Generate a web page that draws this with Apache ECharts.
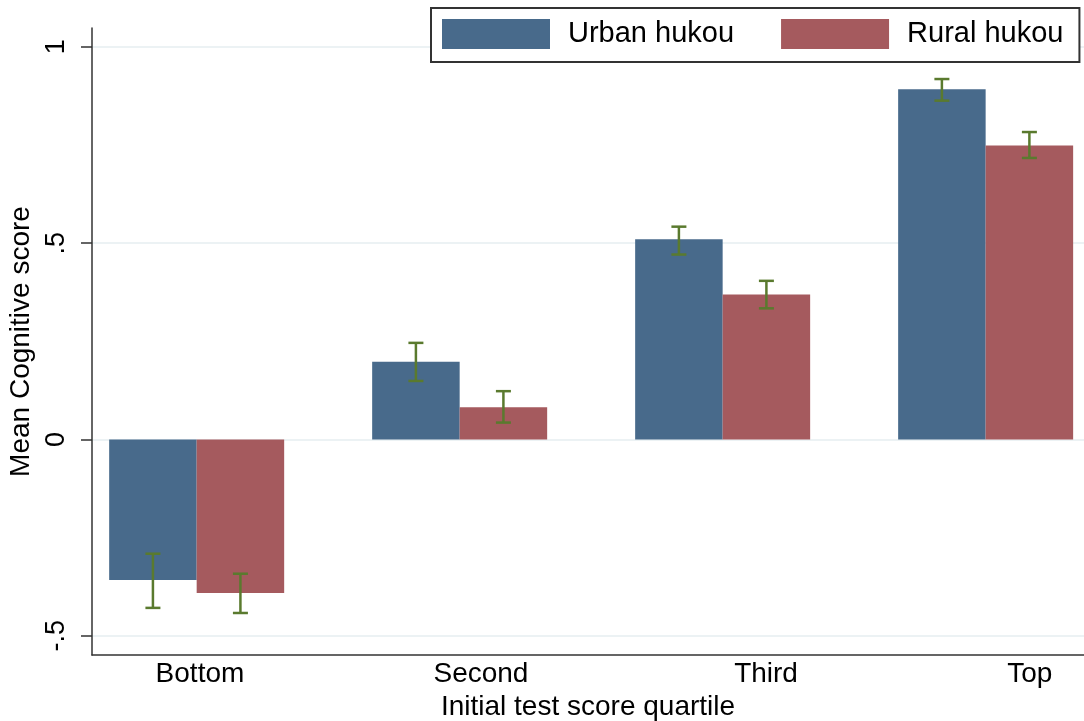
<!DOCTYPE html>
<html>
<head>
<meta charset="utf-8">
<script src="https://cdn.jsdelivr.net/npm/echarts@6/dist/echarts.min.js"></script>
<style>
  html, body { margin: 0; padding: 0; background: #fff; }
  #chart { width: 1084px; height: 721px; }
</style>
</head>
<body>
<div id="chart"></div>
<script>
// quartile groups
const categories = ['Bottom', 'Second', 'Third', 'Top'];
const seriesNames = ['Urban hukou', 'Rural hukou'];

// means
const urban = [-0.358, 0.198, 0.510, 0.892];
const rural = [-0.391, 0.082, 0.369, 0.749];

// confidence interval ends
const urbanHi = [-0.291, 0.246, 0.542, 0.918];
const urbanLo = [-0.429, 0.149, 0.471, 0.863];
const ruralHi = [-0.342, 0.123, 0.404, 0.783];
const ruralLo = [-0.442, 0.043, 0.334, 0.717];

// axis ticks
const yTicks = [-0.5, 0, 0.5, 1];
const yTickLabels = ['-.5', '0', '.5', '1'];
const xLabelPos = [0.0125, 1.081, 2.165, 3.168];

const FONT = 'Liberation Sans, Arial, Helvetica, sans-serif';
const BAR_W = 87.5;
const colors = ['#486a8b', '#a55a5e'];
const errColor = '#5a7a2e';

const chart = echarts.init(document.getElementById('chart'));

function errData(lo, hi, side) {
  return categories.map((c, i) => [i, lo[i], hi[i], side]);
}

function renderErr(params, api) {
  const side = api.value(3);
  const x = api.coord([api.value(0), 0])[0] + side * BAR_W / 2;
  const yLo = api.coord([0, api.value(1)])[1];
  const yHi = api.coord([0, api.value(2)])[1];
  const cap = 7.5;
  const style = { stroke: errColor, lineWidth: 2.5 };
  return {
    type: 'group',
    children: [
      { type: 'line', shape: { x1: x, y1: yLo, x2: x, y2: yHi }, style },
      { type: 'line', shape: { x1: x - cap, y1: yHi, x2: x + cap, y2: yHi }, style },
      { type: 'line', shape: { x1: x - cap, y1: yLo, x2: x + cap, y2: yLo }, style }
    ]
  };
}

function nearest(list, v) {
  let best = 0;
  list.forEach((p, i) => { if (Math.abs(p - v) < Math.abs(list[best] - v)) best = i; });
  return best;
}

chart.setOption({
  animation: false,
  backgroundColor: '#fff',
  textStyle: { fontFamily: FONT, color: '#000' },
  grid: { left: 92, right: 0, top: 28, bottom: 66, containLabel: false, outerBoundsMode: 'none' },
  legend: {
    data: seriesNames,
    left: 431,
    top: 8,
    padding: [11, 16, 13, 11],
    itemWidth: 108,
    itemHeight: 30,
    itemGap: 47,
    icon: 'rect',
    borderColor: '#333',
    borderWidth: 2,
    backgroundColor: '#fff',
    textStyle: { fontSize: 29, fontFamily: FONT, color: '#000', padding: [0, 0, 0, 13] }
  },
  xAxis: {
    type: 'value',
    min: -0.398,
    max: 3.374,
    name: 'Initial test score quartile',
    nameLocation: 'middle',
    nameGap: 22,
    nameTextStyle: { fontSize: 28, fontFamily: FONT, color: '#000', verticalAlign: 'top' },
    axisLine: { show: true, onZero: false, lineStyle: { color: '#333', width: 1.5 } },
    axisTick: { show: false },
    splitLine: { show: false },
    axisLabel: {
      customValues: xLabelPos,
      margin: 5,
      fontSize: 28,
      color: '#000',
      fontFamily: FONT,
      formatter: v => categories[nearest(xLabelPos, v)]
    }
  },
  yAxis: {
    type: 'value',
    min: -0.549,
    max: 1.048,
    name: 'Mean Cognitive score',
    nameLocation: 'middle',
    nameGap: 45,
    nameRotate: 90,
    nameTextStyle: { fontSize: 28, fontFamily: FONT, color: '#000' },
    axisLine: { show: true, onZero: false, lineStyle: { color: '#333', width: 1.5 } },
    axisTick: { show: true, length: 11, customValues: yTicks, lineStyle: { color: '#333', width: 1.5 } },
    splitLine: { show: true, lineStyle: { color: '#e6eef1', width: 1.5 } },
    axisLabel: {
      customValues: yTicks,
      rotate: 90,
      margin: 22,
      fontSize: 27,
      color: '#000',
      fontFamily: FONT,
      formatter: v => yTickLabels[nearest(yTicks, v)]
    }
  },
  series: [
    {
      name: seriesNames[0],
      type: 'bar',
      barWidth: BAR_W,
      barGap: '0%',
      itemStyle: { color: colors[0] },
      data: categories.map((c, i) => [i, urban[i]])
    },
    {
      name: seriesNames[1],
      type: 'bar',
      barWidth: BAR_W,
      barGap: '0%',
      itemStyle: { color: colors[1] },
      data: categories.map((c, i) => [i, rural[i]])
    },
    {
      type: 'custom',
      z: 5,
      renderItem: renderErr,
      encode: { x: 0, y: [1, 2] },
      data: errData(urbanLo, urbanHi, -1)
    },
    {
      type: 'custom',
      z: 5,
      renderItem: renderErr,
      encode: { x: 0, y: [1, 2] },
      data: errData(ruralLo, ruralHi, 1)
    }
  ]
});
</script>
</body>
</html>
